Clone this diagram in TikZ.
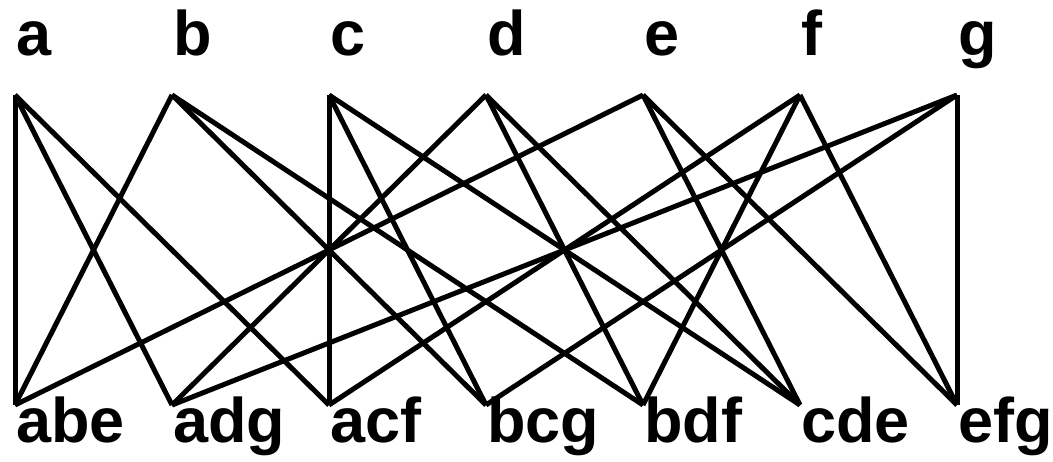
\documentclass[tikz,border=0pt]{standalone}
\usepackage{fontspec}
\setmainfont{Liberation Sans}
\begin{document}
\begin{tikzpicture}[x=1pt,y=-1pt,
  lbl/.style={anchor=base west,inner sep=0pt,font=\fontsize{63}{63}\selectfont\bfseries},
  edge/.style={line width=5pt}]
\useasboundingbox (0,0) rectangle (1053,461);
% top points
\foreach \n/\x in {a/15,b/172,c/329,d/486,e/643,f/800,g/957}{
  \coordinate (t\n) at (\x,95);
  \node[lbl] (l\n) at (\x+1,55) {\n};
}
% bottom lines
\foreach \n/\x in {abe/15,adg/172,acf/329,bcg/486,bdf/643,cde/800,efg/957}{
  \coordinate (b\n) at (\x,405);
  \node[lbl] (m\n) at (\x+1,442) {\n};
}
\foreach \s/\t in {abe/a,abe/b,abe/e,adg/a,adg/d,adg/g,acf/a,acf/c,acf/f,
  bcg/b,bcg/c,bcg/g,bdf/b,bdf/d,bdf/f,cde/c,cde/d,cde/e,efg/e,efg/f,efg/g}{
  \draw[edge] (b\s) -- (t\t);
}
\end{tikzpicture}
\end{document}
